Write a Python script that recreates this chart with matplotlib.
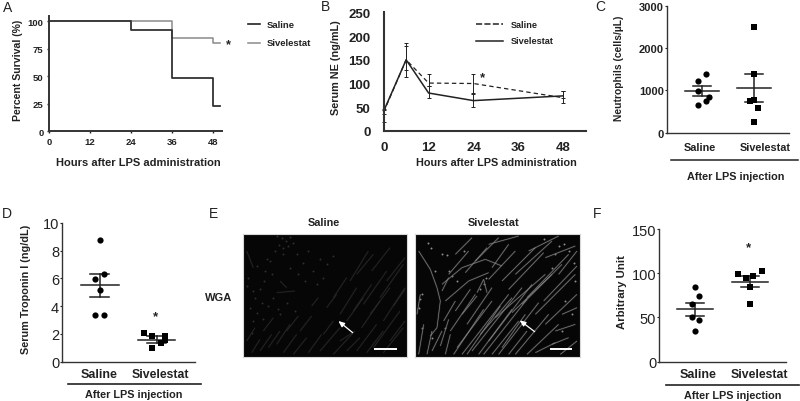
import matplotlib
matplotlib.use('Agg')
import matplotlib.pyplot as plt
from matplotlib.collections import LineCollection

W, H = 800, 402
INK = '#222222'
plt.rcParams['font.family'] = ['Liberation Sans', 'DejaVu Sans']
plt.rcParams['font.weight'] = 'bold'

# panel A, survival
surv_hours_sal = [0, 24, 36, 48, 50]
surv_sal = [100, 92.5, 48, 22.5, 22.5]
surv_hours_siv = [0, 36, 48, 50]
surv_siv = [100, 84.5, 80.5, 80.5]
surv_ticks_x = [0, 12, 24, 36, 48]
surv_ticks_y = [0, 25, 50, 75, 100]

# panel B, serum NE
ne_hours = [0, 6, 12, 24, 48]
ne_sal = [40, 150, 101, 100, 70]
ne_sal_hi = [44, 178, 121, 121, 85]
ne_sal_lo = [18, 128, 94, 81, 58]
ne_siv = [42, 150, 80, 64, 74]
ne_siv_hi = [46, 186, 94, 77, 85]
ne_siv_lo = [36, 113, 70, 51, 69]

# panel C, neutrophils
neut_sal = [1386, 1213, 976, 850, 756, 654]
neut_sal_off = [0.07, -0.08, -0.08, 0.14, 0.07, -0.08]
neut_sal_stats = [976, 858, 1094]
neut_siv = [2504, 1378, 780, 748, 575, 260]
neut_siv_off = [0, 0, 0, -0.08, 0.07, 0]
neut_siv_stats = [1047, 716, 1378]

# panel D, troponin
trop_sal = [8.75, 6.35, 5.94, 5.19, 3.39, 3.39]
trop_sal_off = [0, 0.07, -0.08, 0, -0.08, 0.07]
trop_sal_stats = [5.5, 4.66, 6.35]
trop_siv = [2.09, 1.83, 1.87, 1.6, 1.35, 0.96]
trop_siv_off = [-0.22, -0.08, 0.14, 0.14, 0.07, -0.08]
trop_siv_stats = [1.6, 1.37, 1.83]

# panel F, arbitrary unit
arb_sal = [84.4, 73.9, 65.2, 50, 46.7, 35]
arb_sal_off = [0, 0.07, -0.07, -0.07, 0.07, 0]
arb_sal_stats = [59.6, 52, 66.7]
arb_siv = [102.5, 99.5, 97, 95, 84, 65]
arb_siv_off = [0.22, -0.22, 0.07, -0.07, 0, 0]
arb_siv_stats = [90.5, 85, 97]

# panel E, fibre streaks (x0, y0, x1, y1)
saline_streaks = [
    (330, 150, 385, 60), (300, 250, 350, 170), (370, 220, 440, 120), (420, 200, 490, 100),
    (240, 360, 300, 290), (280, 370, 340, 305), (350, 360, 410, 280), (400, 350, 480, 240),
    (300, 330, 345, 300), (340, 240, 395, 160), (430, 270, 495, 170), (110, 340, 150, 280),
    (60, 360, 95, 310), (160, 370, 200, 320), (180, 300, 215, 255), (215, 225, 235, 200),
    (20, 60, 40, 110), (110, 185, 165, 180), (260, 230, 290, 190), (395, 120, 450, 50),
    (20, 330, 45, 290), (250, 310, 280, 270), (450, 330, 495, 270), (120, 150, 140, 170),
    (130, 365, 170, 310), (35, 365, 60, 325), (85, 350, 120, 300), (205, 365, 245, 310),
    (320, 270, 370, 200), (365, 290, 420, 210), (390, 250, 450, 170), (350, 130, 400, 70),
    (440, 150, 495, 80), (460, 225, 495, 175), (320, 360, 360, 320), (380, 365, 430, 300),
    (430, 365, 490, 290), (280, 200, 320, 140), (140, 300, 175, 255), (70, 300, 100, 260),
]
saline_specks_x = [112, 125, 138, 150, 118, 130, 145, 160, 105, 128, 90, 75, 60, 45, 30, 52, 38,
                   72, 95, 115, 120, 170, 190, 205, 240, 260, 25, 40, 65, 100,
                   50, 80, 150, 175, 195, 220, 230, 70, 35, 20, 85, 140, 165, 250, 280]
saline_specks_y = [15, 22, 30, 18, 42, 50, 44, 35, 60, 68, 90, 120, 175, 200, 230, 245, 270,
                   150, 130, 235, 250, 70, 95, 60, 85, 100, 140, 180, 215, 200,
                   105, 85, 110, 130, 150, 120, 160, 265, 305, 165, 225, 215, 240, 140, 75]
sivel_streaks = [
    (20, 60, 55, 115), (55, 115, 75, 170), (75, 170, 85, 210), (85, 210, 75, 290), (75, 290, 55, 315),
    (90, 160, 150, 110), (150, 110, 220, 85), (220, 85, 270, 105), (100, 210, 170, 150), (170, 150, 230, 125),
    (115, 300, 190, 190), (135, 350, 240, 210), (150, 370, 290, 190), (180, 360, 330, 170), (230, 330, 360, 160),
    (240, 370, 320, 270), (250, 260, 400, 130), (290, 370, 345, 300), (300, 245, 420, 130), (330, 220, 450, 100),
    (270, 150, 370, 50), (310, 130, 420, 30), (190, 90, 260, 20), (130, 70, 180, 20), (370, 250, 490, 130),
    (400, 280, 495, 190), (345, 370, 440, 280), (430, 300, 490, 280), (95, 270, 130, 210), (20, 370, 35, 280),
    (45, 370, 60, 300), (100, 370, 115, 310), (195, 185, 215, 145), (215, 145, 225, 185), (350, 60, 440, 15),
    (15, 250, 25, 190), (440, 130, 495, 60), (270, 350, 340, 250), (205, 310, 300, 200), (165, 280, 240, 170),
    (90, 180, 110, 140), (400, 80, 490, 45), (230, 40, 320, 15), (420, 340, 470, 320),
    (125, 370, 215, 235), (165, 370, 265, 225), (200, 370, 300, 235), (215, 370, 345, 205), (260, 370, 380, 215),
    (310, 370, 410, 250), (230, 145, 310, 60), (290, 175, 395, 65), (345, 200, 470, 70), (395, 210, 495, 105),
    (110, 130, 170, 60), (160, 125, 225, 50), (60, 360, 90, 300), (85, 345, 110, 265), (450, 250, 495, 230),
    (370, 365, 430, 335), (445, 370, 495, 330), (130, 240, 175, 175), (150, 250, 195, 195), (240, 110, 290, 40),
]
sivel_specks_x = [48, 58, 90, 105, 155, 70, 30, 25, 120, 135, 440, 455, 470, 485, 430, 215, 205, 222,
                  20, 30, 100, 112, 480, 460, 450, 60, 490, 395, 420]
sivel_specks_y = [35, 50, 70, 72, 60, 120, 190, 205, 135, 150, 45, 38, 60, 95, 70, 160, 175, 140,
                  230, 290, 290, 120, 250, 210, 300, 320, 150, 25, 110]


def px_axes(left, right, top, bottom):
    return fig.add_axes([left / W, 1 - bottom / H, (right - left) / W, (bottom - top) / H])


def px_text(x, y, s, size=7, ha='center', rotation=0, weight='bold'):
    fig.text(x / W, 1 - y / H, s, fontsize=size, ha=ha, va='center', rotation=rotation,
             color=INK, fontweight=weight, rotation_mode='anchor')


def clean(ax, lw=1.2):
    ax.spines[['top', 'right']].set_visible(False)
    ax.spines[['left', 'bottom']].set_linewidth(lw)
    ax.spines[['left', 'bottom']].set_color('#333333')
    ax.patch.set_alpha(0)


def dot_panel(ax, pos, vals, offs, stats, marker, half=0.33):
    xs = [pos + o for o in offs]
    ax.scatter(xs, vals, s=20, marker=marker, color='black', zorder=3, linewidths=0, clip_on=False)
    mean, lo, hi = stats
    ax.plot([pos - half, pos + half], [mean, mean], color=INK, lw=1.1)
    ax.plot([pos, pos], [lo, hi], color=INK, lw=1.1)
    for v in (lo, hi):
        ax.plot([pos - half / 2, pos + half / 2], [v, v], color=INK, lw=1.1)


def micrograph(left, right, streaks, specks_x, specks_y, grey, glow, arrow, bar):
    ax = px_axes(left, right, 235, 358)
    ax.set_xlim(left=(left - 240) * 3 if left < 400 else (left - 412) * 3,
                right=(right - 240) * 3 if left < 400 else (right - 412) * 3)
    ax.set_ylim(378, 9)
    ax.set_facecolor('#060606')
    segs = [[(a, b), (c, d)] for a, b, c, d in streaks]
    ax.add_collection(LineCollection(segs, colors=glow, linewidths=1.3, alpha=0.45))
    ax.add_collection(LineCollection(segs, colors=grey, linewidths=0.4))
    ax.scatter(specks_x, specks_y, s=2, color=grey, linewidths=0)
    ax.annotate('', xy=arrow[2:], xytext=arrow[:2],
                arrowprops=dict(arrowstyle='-|>,head_width=0.15,head_length=0.35', color='white', lw=0.9,
                                shrinkA=0, shrinkB=0))
    ax.plot(bar[:2], [bar[2], bar[2]], color='white', lw=1.4, solid_capstyle='butt')
    ax.set_xticks([])
    ax.set_yticks([])
    for s in ax.spines.values():
        s.set_color('#d8d8d8')
        s.set_linewidth(0.8)


def plain_ticks(ax):
    for t in ax.get_yticklabels():
        t.set_fontweight('normal')


fig = plt.figure(figsize=(W / 100, H / 100), dpi=100, facecolor='white')

# A
ax = px_axes(49, 222, 17, 132)
clean(ax, 1.4)
ax.step(surv_hours_siv, surv_siv, where='post', color='#8a8a8a', lw=1.1)
ax.step(surv_hours_sal, surv_sal, where='post', color='#333333', lw=1.3)
ax.set_xlim(0, 50.5)
ax.set_ylim(0, 105)
ax.set_xticks(surv_ticks_x)
ax.set_yticks(surv_ticks_y)
ax.tick_params(length=1.5, width=1, labelsize=6.8, pad=2.5, colors=INK)
px_text(138, 163, 'Hours after LPS administration', 8)
px_text(18, 70, 'Percent Survival (%)', 7.6, rotation=90)
fig.add_artist(plt.Line2D([248 / W, 260 / W], [1 - 25 / H] * 2, color='#222222', lw=1.2))
fig.add_artist(plt.Line2D([248 / W, 260 / W], [1 - 44 / H] * 2, color='#8a8a8a', lw=1.1))
px_text(267, 25, 'Saline', 6.8, ha='left')
px_text(267, 44, 'Sivelestat', 6.8, ha='left')
px_text(228, 45, '*', 9)
px_text(8, 8, 'A', 10, weight='normal')

# B
ax = px_axes(383.7, 585.7, 13.3, 132)
clean(ax, 1.5)
ax.errorbar(ne_hours, ne_sal, yerr=[[m - l for m, l in zip(ne_sal, ne_sal_lo)],
                                    [h - m for m, h in zip(ne_sal, ne_sal_hi)]],
            color=INK, lw=0.9, ls=(0, (3.5, 2.5)), elinewidth=0.7, capsize=1.5, capthick=0.7, clip_on=False)
ax.errorbar(ne_hours, ne_siv, yerr=[[m - l for m, l in zip(ne_siv, ne_siv_lo)],
                                    [h - m for m, h in zip(ne_siv, ne_siv_hi)]],
            color=INK, lw=1.1, elinewidth=0.7, capsize=1.5, capthick=0.7, clip_on=False)
ax.set_xlim(0, 54)
ax.set_ylim(0, 250)
ax.set_xticks(surv_ticks_x)
ax.set_yticks([0, 50, 100, 150, 200, 250])
ax.tick_params(axis='x', length=0, labelsize=9.5, pad=7.5, colors=INK)
ax.tick_params(axis='y', length=0, labelsize=9.5, pad=9.5, colors=INK)
px_text(496, 163, 'Hours after LPS administration', 7.85)
px_text(336, 68, 'Serum NE (ng/mL)', 7.8, rotation=90)
fig.add_artist(plt.Line2D([476 / W, 503 / W], [1 - 25 / H] * 2, color=INK, lw=1.1, ls=(0, (4, 1.5))))
fig.add_artist(plt.Line2D([476 / W, 503 / W], [1 - 42 / H] * 2, color=INK, lw=1.1))
px_text(511, 25, 'Saline', 6.6, ha='left')
px_text(511, 42, 'Sivelestat', 6.6, ha='left')
px_text(482, 78, '*', 9.5)
px_text(326, 7, 'B', 10, weight='normal')

# C
ax = px_axes(667, 789, 6.7, 133.7)
clean(ax, 1.0)
dot_panel(ax, 1, neut_sal, neut_sal_off, neut_sal_stats, 'o')
dot_panel(ax, 2, neut_siv, neut_siv_off, neut_siv_stats, 's')
ax.set_xlim(0.327, 2.673)
ax.set_ylim(0, 3000)
ax.set_xticks([])
ax.set_yticks([0, 1000, 2000, 3000])
ax.tick_params(length=1.5, width=0.8, labelsize=8, pad=0.8, colors=INK)
px_text(700, 148, 'Saline', 7.8)
px_text(765, 148, 'Sivelestat', 7.8)
fig.add_artist(plt.Line2D([670.7 / W, 798 / W], [1 - 161.3 / H] * 2, color='#222222', lw=1.1))
px_text(736, 176.5, 'After LPS injection', 7.8)
px_text(619, 68, 'Neutrophils (cells/\u00b5L)', 7.4, rotation=90)
px_text(600, 7, 'C', 10, weight='normal')

# D
ax = px_axes(62, 195, 224, 362.7)
clean(ax, 1.0)
dot_panel(ax, 1, trop_sal, trop_sal_off, trop_sal_stats, 'o')
dot_panel(ax, 2, trop_siv, trop_siv_off, trop_siv_stats, 's')
ax.set_xlim(0.335, 2.676)
ax.set_ylim(0, 10)
ax.set_xticks([])
ax.set_yticks([0, 2, 4, 6, 8, 10])
ax.tick_params(length=1.5, width=0.8, labelsize=10.5, pad=0.5, colors=INK)
plain_ticks(ax)
px_text(99, 375, 'Saline', 9)
px_text(160, 375, 'Sivelestat', 8.8)
fig.add_artist(plt.Line2D([67.7 / W, 200.7 / W], [1 - 385.3 / H] * 2, color='#222222', lw=1.2))
px_text(134, 395, 'After LPS injection', 7.8)
px_text(26, 289, 'Serum Troponin I (ng/dL)', 7.8, rotation=90)
px_text(155, 317, '*', 9.5)
px_text(7, 214, 'D', 10, weight='normal')

# E
micrograph(242.7, 407, saline_streaks, saline_specks_x, saline_specks_y, '#2e2e2e', '#1c1c1c',
           (338, 305, 295, 270), (403, 470, 353))
micrograph(415, 580, sivel_streaks, sivel_specks_x, sivel_specks_y, '#8c8c8c', '#444444',
           (368, 302, 323, 268), (413, 480, 353))
px_text(324, 223, 'Saline', 7.8)
px_text(494, 223, 'Sivelestat', 7.9)
px_text(219, 298, 'WGA', 8)
px_text(213, 214, 'E', 10, weight='normal')

# F
ax = px_axes(659, 786, 230, 362.7)
clean(ax, 1.0)
dot_panel(ax, 1, arb_sal, arb_sal_off, arb_sal_stats, 'o')
dot_panel(ax, 2, arb_siv, arb_siv_off, arb_siv_stats, 's')
ax.set_xlim(0.331, 2.669)
ax.set_ylim(0, 150)
ax.set_xticks([])
ax.set_yticks([0, 50, 100, 150])
ax.tick_params(length=1.5, width=0.8, labelsize=10.5, pad=0.5, colors=INK)
plain_ticks(ax)
px_text(698, 375, 'Saline', 9)
px_text(759, 375, 'Sivelestat', 8.8)
fig.add_artist(plt.Line2D([666 / W, 799 / W], [1 - 386 / H] * 2, color='#222222', lw=1.2))
px_text(733, 396, 'After LPS injection', 7.8)
px_text(622, 292, 'Arbitrary Unit', 8.2, rotation=90)
px_text(748, 248, '*', 9.5)
px_text(597, 214, 'F', 10, weight='normal')

fig.savefig('out.png', dpi=100)
